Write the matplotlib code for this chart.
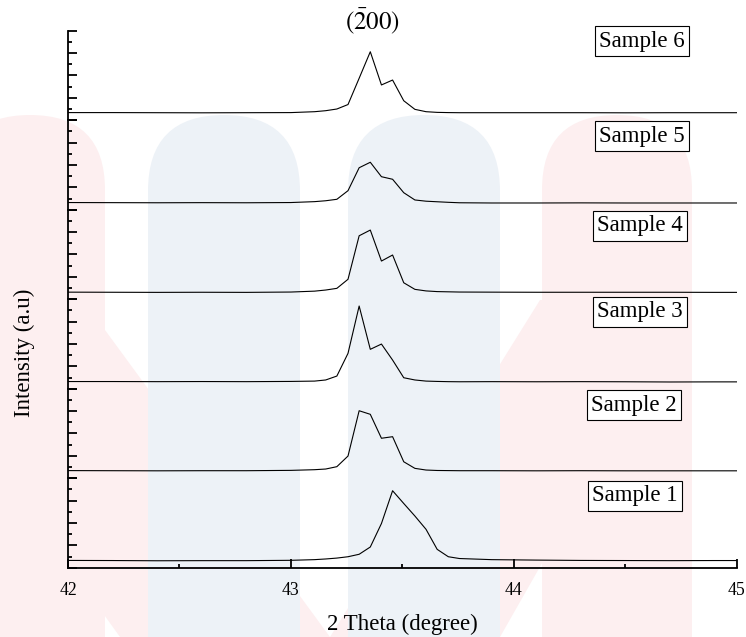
import numpy as np
import matplotlib
matplotlib.use("Agg")
import matplotlib.pyplot as plt
from matplotlib.ticker import MultipleLocator
from matplotlib.patches import FancyBboxPatch, Polygon

plt.rcParams['font.family'] = ['Liberation Serif', 'DejaVu Serif']
plt.rcParams['mathtext.fontset'] = 'stix'

# 2-theta positions (degree), shared by all samples
two_theta = [42.0, 42.2, 42.4, 42.6, 42.8, 43.0, 43.106, 43.156, 43.206, 43.256,
             43.306, 43.356, 43.406, 43.456, 43.506, 43.556, 43.606, 43.656,
             43.706, 43.756, 43.9, 44.1, 44.3, 44.5, 44.7, 44.9, 45.0]

# intensities (a.u)
sample1 = [0.65, 0.64, 0.62, 0.63, 0.63, 0.66, 0.72, 0.78, 0.86, 0.98,
           1.20, 1.85, 3.95, 6.88, 5.74, 4.62, 3.43, 1.64,
           0.98, 0.82, 0.72, 0.68, 0.65, 0.64, 0.63, 0.64, 0.64]
sample2 = [0.68, 0.67, 0.66, 0.67, 0.67, 0.70, 0.76, 0.82, 1.03, 1.98,
           6.03, 5.71, 3.57, 3.71, 1.47, 0.88, 0.73, 0.69,
           0.68, 0.67, 0.67, 0.66, 0.67, 0.66, 0.66, 0.66, 0.66]
sample3 = [0.64, 0.64, 0.63, 0.64, 0.63, 0.65, 0.68, 0.78, 1.13, 3.16,
           7.39, 3.52, 3.99, 2.56, 0.98, 0.78, 0.68, 0.65,
           0.63, 0.62, 0.63, 0.62, 0.63, 0.62, 0.60, 0.61, 0.61]
sample4 = [0.63, 0.62, 0.61, 0.62, 0.61, 0.64, 0.72, 0.82, 0.97, 1.78,
           5.67, 6.18, 3.41, 3.95, 1.47, 0.88, 0.74, 0.68,
           0.66, 0.64, 0.63, 0.62, 0.62, 0.62, 0.62, 0.61, 0.61]
sample5 = [0.64, 0.63, 0.62, 0.63, 0.62, 0.64, 0.72, 0.80, 0.93, 1.70,
           3.75, 4.24, 2.95, 2.72, 1.52, 0.87, 0.76, 0.71,
           0.66, 0.62, 0.60, 0.60, 0.61, 0.60, 0.60, 0.60, 0.60]
sample6 = [0.68, 0.68, 0.67, 0.66, 0.67, 0.68, 0.76, 0.85, 1.00, 1.40,
           3.75, 6.12, 3.15, 3.59, 1.74, 0.97, 0.76, 0.70,
           0.68, 0.67, 0.67, 0.67, 0.67, 0.66, 0.67, 0.67, 0.67]

labels = ['Sample 1', 'Sample 2', 'Sample 3', 'Sample 4', 'Sample 5', 'Sample 6']
series = [sample1, sample2, sample3, sample4, sample5, sample6]
x_ticks = [42, 43, 44, 45]

W, H = 746, 637
fig = plt.figure(figsize=(W / 100, H / 100), dpi=100)

# faint watermark behind the chart (pixel space)
bg = fig.add_axes([0, 0, 1, 1], zorder=-1)
bg.set_xlim(0, W)
bg.set_ylim(H, 0)
bg.axis('off')
pink, blue = '#fdeff0', '#edf2f7'
bg.add_patch(Polygon([(0, 330), (105, 330), (330, 637), (120, 637), (0, 470)],
                     closed=True, fc=pink, ec='none'))
bg.add_patch(Polygon([(540, 300), (692, 300), (500, 637), (330, 637)],
                     closed=True, fc=pink, ec='none'))
for x0, w, c in [(-45, 150, pink), (148, 152, blue), (348, 152, blue), (542, 150, pink)]:
    bg.add_patch(FancyBboxPatch((x0, 115), w, 800, fc=c, ec='none',
                                boxstyle=f'round,pad=0,rounding_size={w / 2}'))

left, right = 68, 736.8
ax_bottom, panel_h = 567.7, 89.5
# label box centres (pixels from top-left)
label_pos = [(635, 496), (634, 405), (640, 312), (640, 226), (642, 136), (642, 41)]

for i, (name, y) in enumerate(zip(labels, series)):
    b = (H - ax_bottom + i * panel_h) / H
    ax = fig.add_axes([left / W, b, (right - left) / W, panel_h / H])
    ax.patch.set_alpha(0)
    ax.plot(two_theta, y, color='black', lw=0.8)
    ax.set_xlim(42, 45)
    ax.set_ylim(0, 8)
    for s in ['top', 'right']:
        ax.spines[s].set_visible(False)
    ax.spines['left'].set_linewidth(1.3)
    ax.yaxis.set_major_locator(MultipleLocator(2))
    ax.yaxis.set_minor_locator(MultipleLocator(1))
    ax.tick_params(axis='y', which='both', direction='in', labelleft=False, width=1.3)
    ax.tick_params(axis='y', which='major', length=6.5)
    ax.tick_params(axis='y', which='minor', length=3.2)
    if i == 0:
        ax.spines['bottom'].set_linewidth(1.3)
        ax.set_xticks(x_ticks)
        ax.xaxis.set_minor_locator(MultipleLocator(0.5))
        ax.tick_params(axis='x', which='both', direction='in', width=1.3,
                       labelsize=12.7, pad=10)
        ax.tick_params(axis='x', which='major', length=6.5)
        ax.tick_params(axis='x', which='minor', length=3)
        ax.set_xlabel('2 Theta (degree)', fontsize=16.5, labelpad=11)
    else:
        ax.spines['bottom'].set_visible(False)
        ax.tick_params(axis='x', which='both', bottom=False, labelbottom=False)
    cx, cy = label_pos[i]
    fig.text(cx / W, 1 - cy / H, name, fontsize=16.5, ha='center', va='center',
             bbox=dict(boxstyle='square,pad=0.2', fc='white', ec='black', lw=0.8))

fig.text(24 / W, 1 - 353 / H, 'Intensity (a.u)', fontsize=16.5, rotation=90,
         ha='center', va='center')
fig.text(372 / W, 1 - 21 / H, r'$(\bar{2}00)$', fontsize=18, ha='center', va='center')

fig.savefig('out.png', dpi=100, facecolor='white')
